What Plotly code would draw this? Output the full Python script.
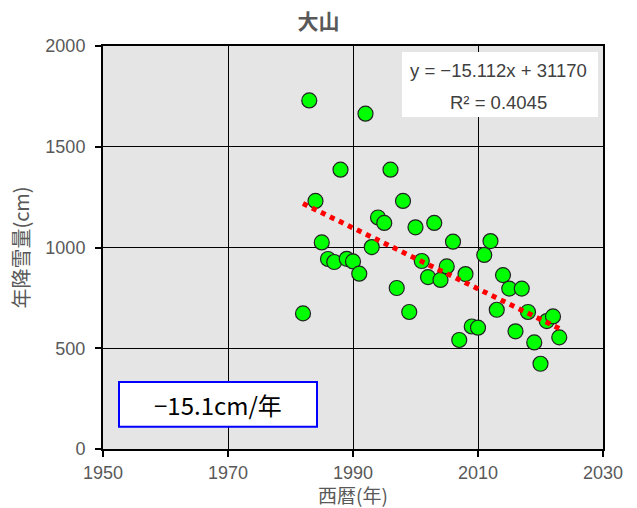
import plotly.graph_objects as go

# ---- data ----
years = list(range(1982, 2024))
snowfall = [673, 1730, 1231, 1025, 943, 928, 1386, 944, 931, 870,
            1664, 1002, 1149, 1122, 1386, 799, 1231, 680, 1100, 933,
            853, 1122, 839, 906, 1029, 541, 868, 608, 602, 963,
            1032, 691, 863, 796, 584, 796, 680, 529, 423, 635,
            658, 554]
trend_slope = -15.112
trend_intercept = 31170
r_squared = 0.4045
x_ticks = [1950, 1970, 1990, 2010, 2030]
y_ticks = [0, 500, 1000, 1500, 2000]
title_text = "大山"
x_title = "西暦(年)"
y_title = "年降雪量(cm)"
rate_label = "−15.1cm/年"

trend_x = [years[0], years[-1]]
trend_y = [trend_slope * x + trend_intercept for x in trend_x]

GRAY = "#595959"
TICKFONT = dict(family="Liberation Sans, Arial", size=18, color=GRAY)
CJK = "Noto Sans CJK JP"

fig = go.Figure()
fig.add_trace(go.Scatter(
    x=years, y=snowfall, mode="markers",
    marker=dict(size=15, color="#00FF00", line=dict(color="#222222", width=1.2)),
    showlegend=False, hoverinfo="x+y"))
fig.add_trace(go.Scatter(
    x=trend_x, y=trend_y, mode="lines",
    line=dict(color="#FF0000", width=5, dash="dot"),
    showlegend=False, hoverinfo="skip"))

fig.update_layout(
    width=637, height=508,
    margin=dict(l=103, r=34, t=46, b=59, autoexpand=False),
    paper_bgcolor="white",
    plot_bgcolor="#E5E5E5",
    title=dict(text="<b>" + title_text + "</b>", x=0.5, xref="container",
               y=0.958, yref="container", xanchor="center", yanchor="middle",
               font=dict(family=CJK, size=21, color=GRAY)),
    xaxis=dict(range=[1950, 2030], tickvals=x_ticks, ticktext=[str(v) for v in x_ticks],
               showgrid=True, gridcolor="black", gridwidth=1,
               showline=True, linecolor="black", linewidth=2, mirror=True,
               ticks="outside", ticklen=6, tickwidth=2, tickcolor="black",
               tickfont=TICKFONT, zeroline=False, automargin=False,
               title=dict(text=x_title, font=dict(family=CJK, size=19, color=GRAY), standoff=4)),
    yaxis=dict(range=[0, 2000], tickvals=y_ticks, ticktext=[str(v) for v in y_ticks],
               showgrid=True, gridcolor="black", gridwidth=1,
               showline=True, linecolor="black", linewidth=2, mirror=True,
               ticks="outside", ticklen=6, tickwidth=2, tickcolor="black",
               tickfont=TICKFONT, zeroline=False, automargin=False,
               ticklabelstandoff=6,
               title=dict(text=y_title, font=dict(family=CJK, size=20, color=GRAY), standoff=10)),
)

# equation box
fig.add_shape(type="rect", xref="paper", yref="paper",
              x0=0.598, x1=0.99, y0=0.824, y1=0.985,
              fillcolor="white", line=dict(width=0), layer="above")
fig.add_annotation(xref="paper", yref="paper", x=0.79, y=0.939,
                   xanchor="center", yanchor="middle",
                   text=f"y = −{abs(trend_slope):.3f}x + {trend_intercept}",
                   showarrow=False, font=dict(family="Liberation Sans, Arial", size=18.5, color="#404040"))
fig.add_annotation(xref="paper", yref="paper", x=0.79, y=0.859,
                   xanchor="center", yanchor="middle",
                   text=f"R² = {r_squared:.4f}",
                   showarrow=False, font=dict(family="Liberation Sans, Arial", size=18.5, color="#404040"))

# rate box
fig.add_shape(type="rect", xref="paper", yref="paper",
              x0=0.032, x1=0.428, y0=0.055, y1=0.166,
              fillcolor="white", line=dict(color="#0000FF", width=2), layer="above")
fig.add_annotation(xref="paper", yref="paper", x=0.23, y=0.110,
                   xanchor="center", yanchor="middle",
                   text=rate_label, showarrow=False,
                   font=dict(family=CJK, size=24, color="black"))

fig.write_html("out.html", config={"displayModeBar": False},
               post_script="document.body.style.margin='0';document.body.style.padding='0';document.body.style.overflow='hidden';")
